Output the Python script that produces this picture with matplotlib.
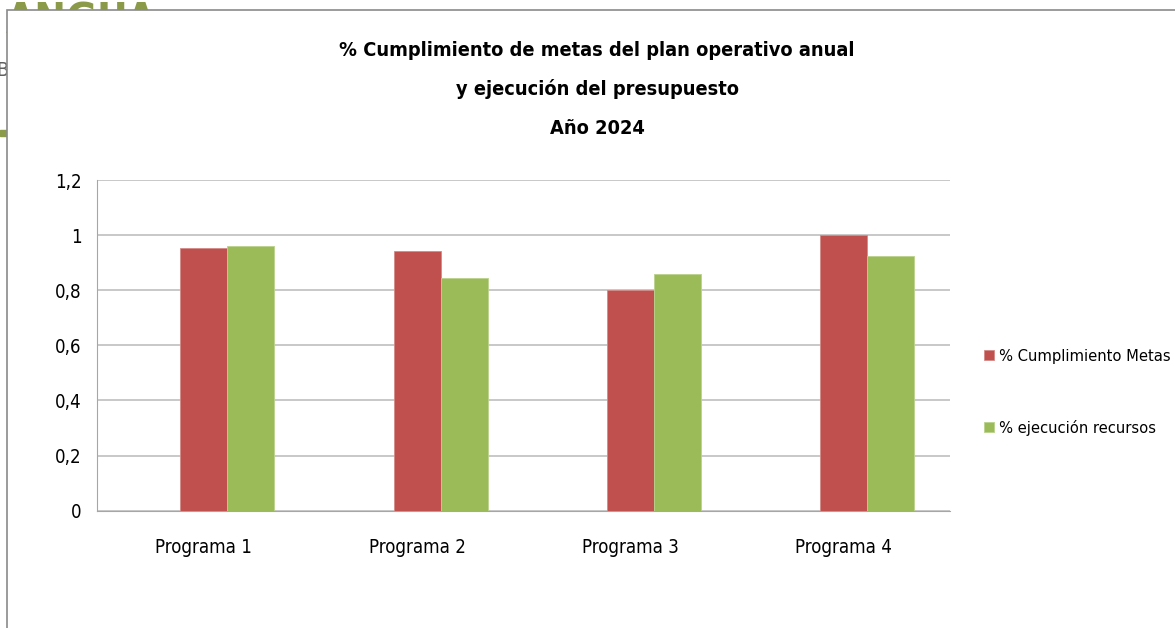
import numpy as np
import matplotlib
matplotlib.use('Agg')
import matplotlib.pyplot as plt
from matplotlib import font_manager
from matplotlib.patches import Rectangle
from matplotlib.textpath import TextPath
from matplotlib.font_manager import FontProperties

# look for a narrow sans (the original uses Calibri, squeezed)
fam, stretch = 'Liberation Sans', 'normal'
for f in font_manager.fontManager.ttflist:
    n = f.name
    if 'Narrow' in n or 'Condensed' in n or f.stretch in ('condensed', 'semi-condensed'):
        if 'Mono' in n or 'Serif' in n:
            continue
        fam, stretch = n, f.stretch
        break
plt.rcParams['font.family'] = [fam, 'DejaVu Sans']
plt.rcParams['font.stretch'] = stretch

programas = ['Programa 1', 'Programa 2', 'Programa 3', 'Programa 4']
cumplimiento = [0.955, 0.942, 0.802, 1.0]
ejecucion = [0.961, 0.844, 0.858, 0.925]
yticks = [0, 0.2, 0.4, 0.6, 0.8, 1.0, 1.2]
ytick_labels = ['0', '0,2', '0,4', '0,6', '0,8', '1', '1,2']
serie_labels = ['% Cumplimiento Metas', '% ejecución recursos']
titulo = ['% Cumplimiento de metas del plan operativo anual', 'y ejecución del presupuesto', 'Año 2024']


def fit(txt, target_px, weight='normal'):
    # font size (pt at 100 dpi) that gives the wanted width in pixels
    fp = FontProperties(family=[fam, 'DejaVu Sans'], stretch=stretch, weight=weight, size=10)
    wpx = TextPath((0, 0), txt, prop=fp).get_extents().width * 100 / 72
    return 10 * target_px / wpx


# a bit bigger than the pure width fit, the original glyphs are taller
fs_tick = fit('Programa 1', 85) * 1.1
fs_leg = fit(serie_labels[0], 170)
fs_title = fit(titulo[0], 467, 'bold') * 1.1

W, H = 1175, 628
fig = plt.figure(figsize=(W / 100, H / 100), dpi=100)

# background slide bits peeking out behind the chart frame
bg = fig.add_axes([0, 0, 1, 1], zorder=0)
bg.set_xlim(0, W)
bg.set_ylim(H, 0)
bg.axis('off')
bg.text(6, 33, 'ANGUA', color='#8A9A48', fontsize=fit('ANGUA', 150, 'bold'), fontweight='bold',
        ha='left', va='baseline')
bg.text(-4, 70, 'B', color='#606060', fontsize=14, va='center')
bg.add_patch(Rectangle((0, 130), 7, 6, color='#8A9A48'))
bg.add_patch(Rectangle((6.5, 10), W, H, facecolor='white', edgecolor='#8A8A8A', lw=1.2, zorder=5))

ax = fig.add_axes([97.3 / W, 1 - 510.7 / H, (950 - 97.3) / W, (510.7 - 180) / H], zorder=2)
ax.set_facecolor('none')

x = np.arange(len(programas))
w = 0.2207
ax.bar(x, cumplimiento, w, color='#C0504D', edgecolor='#D58A88', lw=0.6, label=serie_labels[0], zorder=3)
ax.bar(x + w, ejecucion, w, color='#9BBB59', edgecolor='#B9D38A', lw=0.6, label=serie_labels[1], zorder=3)

ax.set_xlim(-0.5, 3.5)
ax.set_ylim(0, 1.2)
ax.set_yticks(yticks)
ax.set_yticklabels(ytick_labels)
ax.set_xticks(x)
ax.set_xticklabels(programas)
ax.grid(axis='y', color='#BFBFBF', lw=1.2, zorder=0)
ax.tick_params(axis='both', length=0, labelsize=fs_tick, colors='black')
ax.tick_params(axis='y', pad=11.5)
ax.tick_params(axis='x', pad=20)
for s in ['top', 'right']:
    ax.spines[s].set_visible(False)
ax.spines['left'].set_color('#A6A6A6')
ax.spines['bottom'].set_color('#A6A6A6')

ax.legend(loc='center left', bbox_to_anchor=(976 / W, 1 - 392.5 / H), bbox_transform=fig.transFigure,
          frameon=False, fontsize=fs_leg, handlelength=0.6, handleheight=0.6, handletextpad=0.3,
          labelspacing=3.4, borderpad=0)

for t, yc in zip(titulo, [50, 89, 128]):
    fig.text(597 / W, 1 - yc / H, t, ha='center', va='center', fontsize=fs_title,
             fontweight='bold', zorder=10)

plt.savefig('out.png', dpi=100)
